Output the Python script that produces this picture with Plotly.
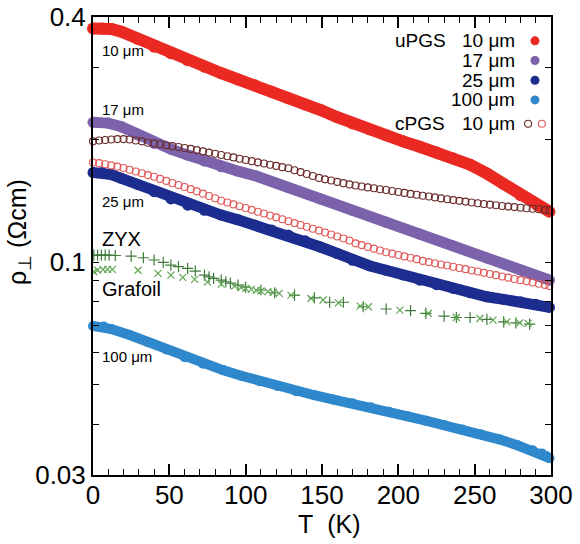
import math
import plotly.graph_objects as go

# ---------------- data ----------------
T_u10 = [0, 6, 12, 18.6, 29.5, 40, 51, 62, 73, 84, 95, 106, 117, 128, 139, 149.5,
         160, 170, 181, 192, 203, 214, 225, 236, 247, 258, 269, 280, 291, 299]
rho_u10 = [0.375, 0.375, 0.374, 0.368, 0.353, 0.338, 0.326, 0.313, 0.302, 0.291, 0.281,
           0.272, 0.262, 0.2525, 0.244, 0.236, 0.227, 0.219, 0.212, 0.205, 0.198, 0.192,
           0.186, 0.1798, 0.1735, 0.165, 0.1555, 0.146, 0.138, 0.133]

T_u17 = [0, 10, 18.6, 29.5, 40, 51, 62, 73, 84, 95, 106, 128, 149, 170, 192, 214, 236,
         258, 280, 299]
rho_u17 = [0.2205, 0.2195, 0.215, 0.2051, 0.1957, 0.1895, 0.1832, 0.1771, 0.1714, 0.1673,
           0.1631, 0.1525, 0.1429, 0.134, 0.1253, 0.1172, 0.1096, 0.1024, 0.0957, 0.0903]

T_u25 = [0, 6, 12, 18.6, 29.5, 40, 51, 62, 73, 84, 95, 106, 117, 128, 139, 149, 160, 170,
         181, 192, 203, 214, 225, 236, 247, 258, 269, 280, 290, 299]
rho_u25 = [0.166, 0.166, 0.164, 0.1606, 0.155, 0.1489, 0.143, 0.138, 0.134, 0.1305, 0.127,
           0.1233, 0.120, 0.1165, 0.1128, 0.1089, 0.105, 0.101, 0.098, 0.0955, 0.093,
           0.0903, 0.088, 0.0862, 0.0841, 0.0822, 0.081, 0.0799, 0.0788, 0.0774]

T_u100 = [0, 7, 12, 24, 36, 48, 60, 72, 85, 97, 109, 121, 133, 145, 157, 170, 182, 194,
          206, 218, 230, 242, 254, 266, 278, 288, 294, 297, 299]
rho_u100 = [0.0697, 0.0695, 0.0685, 0.0662, 0.0636, 0.061, 0.0584, 0.0563, 0.0543, 0.0526,
            0.0510, 0.0496, 0.0482, 0.0471, 0.0460, 0.045, 0.0440, 0.0429, 0.0418, 0.0408,
            0.0398, 0.0388, 0.0378, 0.0367, 0.0355, 0.0345, 0.0339, 0.0334, 0.0330]

T_c10 = [0, 4, 8, 12, 16, 20, 24, 28, 32, 36, 40, 44, 48, 52, 56, 60, 64, 68, 72, 76, 80,
         84, 88, 92, 96, 100, 104, 108, 112, 116, 120, 124, 128, 132, 136, 140, 144, 148,
         152, 156, 160, 164, 168, 172, 176, 180, 184, 188, 192, 196, 200, 204, 208, 212,
         216, 220, 224, 228, 232, 236, 240, 244, 248, 252, 256, 260, 264, 268, 272, 276,
         280, 284, 288, 292, 296, 299]
rho_c10_a = [0.198, 0.199, 0.1995, 0.200, 0.2005, 0.2005, 0.200, 0.199, 0.198, 0.1965,
             0.1957, 0.1947, 0.1937, 0.1927, 0.1917, 0.1907, 0.1897, 0.1884, 0.1871,
             0.1858, 0.1845, 0.1832, 0.182, 0.1808, 0.1795, 0.1782, 0.177, 0.1758, 0.1746,
             0.1735, 0.1723, 0.1711, 0.170, 0.1682, 0.1664, 0.1646, 0.1628, 0.161, 0.1597,
             0.1586, 0.1574, 0.1563, 0.1552, 0.1542, 0.1534, 0.1526, 0.1518, 0.1510, 0.1503,
             0.1495, 0.1487, 0.1479, 0.1471, 0.1464, 0.1456, 0.1449, 0.1442, 0.1434,
             0.1427, 0.142, 0.1414, 0.1408, 0.1401, 0.1395, 0.1389, 0.1384, 0.1379, 0.1374,
             0.1369, 0.1365, 0.136, 0.1356, 0.1352, 0.1348, 0.1344, 0.1341]
rho_c10_b = [0.1757, 0.1750, 0.1740, 0.1728, 0.1716, 0.1703, 0.1686, 0.1670, 0.1653,
             0.1636, 0.162, 0.1601, 0.1583, 0.1565, 0.1547, 0.1529, 0.1511, 0.1492, 0.1473,
             0.1454, 0.1435, 0.1415, 0.1401, 0.1386, 0.1372, 0.1358, 0.1344, 0.1330,
             0.1316, 0.1302, 0.1288, 0.1274, 0.126, 0.1247, 0.1234, 0.1221, 0.1208, 0.1195,
             0.1182, 0.1169, 0.1156, 0.1143, 0.1130, 0.1112, 0.1101, 0.1090, 0.1079,
             0.1068, 0.1057, 0.1049, 0.1041, 0.1033, 0.1025, 0.1017, 0.1007, 0.1000,
             0.0994, 0.0987, 0.0981, 0.0974, 0.0967, 0.0961, 0.0954, 0.0948, 0.0941,
             0.0935, 0.0929, 0.0922, 0.0916, 0.0909, 0.0903, 0.0897, 0.0891, 0.0885,
             0.0879, 0.0874]

T_zyx = [0.5, 3, 5.5, 8, 10.5, 14.6, 25, 33, 40, 46, 51, 56, 62, 67, 73, 76, 79, 84, 87,
         90, 95, 100, 110, 119, 132, 145, 155, 164, 177, 192, 208, 218, 230, 238, 247, 258,
         269, 277, 286]
rho_zyx = [0.1040, 0.1040, 0.1040, 0.1040, 0.1040, 0.1038, 0.1034, 0.1025, 0.1012, 0.0998,
           0.0983, 0.0975, 0.0965, 0.0950, 0.0929, 0.0920, 0.0912, 0.0903, 0.0895, 0.0888,
           0.0878, 0.0868, 0.0854, 0.0841, 0.0830, 0.0817, 0.0797, 0.0797, 0.0777, 0.0767,
           0.0760, 0.0748, 0.0737, 0.0731, 0.0731, 0.0723, 0.0713, 0.0709, 0.0704]

T_graf = [0.5, 3, 6.6, 9.5, 12.7, 29.5, 42.6, 51, 58.8, 66.6, 75, 84, 92.8, 97, 100,
          103.7, 107, 110, 114.6, 118, 122, 129.7, 142.8, 150.7, 160.7, 175, 180.4, 201,
          219.6, 238, 253.4, 262, 271, 279.6, 285]
rho_graf = [0.0947, 0.0955, 0.0960, 0.0960, 0.0960, 0.0955, 0.0938, 0.0929, 0.0917,
            0.0907, 0.0894, 0.0883, 0.0873, 0.0866, 0.0862, 0.0857, 0.0852, 0.0850, 0.0846,
            0.0842, 0.0838, 0.0830, 0.0814, 0.0807, 0.0794, 0.0780, 0.0777, 0.0762, 0.0748,
            0.0731, 0.0727, 0.0720, 0.0713, 0.0709, 0.0707]

y_ticks = [0.03, 0.04, 0.05, 0.06, 0.07, 0.08, 0.09, 0.1, 0.2, 0.3, 0.4]
y_ticktext = ['0.03', ' ', ' ', ' ', ' ', ' ', ' ', '0.1', ' ', ' ', '0.4']

legend_rows = [("uPGS", "10 μm"), ("", "17 μm"), ("", "25 μm"), ("", "100 μm"),
               ("cPGS", "10 μm")]

curve_labels = [("10 μm", 0.926, 15), ("17 μm", 0.799, 15), ("25 μm", 0.598, 15),
                ("ZYX", 0.515, 20), ("Grafoil", 0.406, 20), ("100 μm", 0.258, 15)]

# ---------------- styles ----------------
C_RED = "#ea2a22"
C_PURPLE = "#7b62ab"
C_NAVY = "#1c2d8f"
C_LBLUE = "#2f88cc"
C_BROWN = "#6a2b2b"
C_PINK = "#e25858"
C_ZYX = "#3f7a3a"
C_GRAF = "#5fa552"
FONT = "Liberation Sans, Arial, Helvetica, sans-serif"

fig = go.Figure()


def band(T, rho, color, w):
    fig.add_trace(go.Scatter(
        x=T, y=rho, mode="lines+markers", line=dict(color=color, width=w),
        marker=dict(color=color, size=w), cliponaxis=False, showlegend=False,
        hoverinfo="skip"))


band(T_u10, rho_u10, C_RED, 12)
band(T_u17, rho_u17, C_PURPLE, 11)
band(T_u25, rho_u25, C_NAVY, 11)
band(T_u100, rho_u100, C_LBLUE, 10)

for rho, col in [(rho_c10_a, C_BROWN), (rho_c10_b, C_PINK)]:
    fig.add_trace(go.Scatter(
        x=T_c10, y=rho, mode="markers",
        marker=dict(symbol="circle-open", size=7, color=col, line=dict(width=1.1, color=col)),
        cliponaxis=False, showlegend=False, hoverinfo="skip"))

fig.add_trace(go.Scatter(
    x=T_zyx, y=rho_zyx, mode="markers",
    marker=dict(symbol="cross-thin-open", size=8, line=dict(width=1.2, color=C_ZYX), color=C_ZYX),
    showlegend=False, hoverinfo="skip"))
fig.add_trace(go.Scatter(
    x=T_graf, y=rho_graf, mode="markers",
    marker=dict(symbol="x-thin-open", size=7, line=dict(width=1.2, color=C_GRAF), color=C_GRAF),
    showlegend=False, hoverinfo="skip"))

# ---------------- hand-built legend (text left, key right) ----------------
row_y0, row_dy = 0.948, 0.043
row_y = [row_y0 - i * row_dy for i in range(4)] + [row_y0 - 3 * row_dy - 0.052]
key_colors = [C_RED, C_PURPLE, C_NAVY, C_LBLUE]
fig.add_trace(go.Scatter(
    x=[0.965] * 4, y=row_y[:4], xaxis="x3", yaxis="y3", mode="markers",
    marker=dict(color=key_colors, size=9), showlegend=False, hoverinfo="skip",
    cliponaxis=False))
fig.add_trace(go.Scatter(
    x=[0.950, 0.980], y=[row_y[4]] * 2, xaxis="x3", yaxis="y3", mode="markers",
    marker=dict(symbol="circle-open", size=7, color=[C_BROWN, C_PINK],
                line=dict(width=1.1, color=[C_BROWN, C_PINK])),
    showlegend=False, hoverinfo="skip", cliponaxis=False))

annotations = []
for (lab, size_txt), yy in zip(legend_rows, row_y):
    if lab:
        annotations.append(dict(text=lab, xref="paper", yref="paper", x=0.655, y=yy,
                                xanchor="left", yanchor="middle", showarrow=False,
                                font=dict(size=19, color="black", family=FONT)))
    annotations.append(dict(text=size_txt, xref="paper", yref="paper", x=0.926, y=yy,
                            xanchor="right", yanchor="middle", showarrow=False,
                            font=dict(size=19, color="black", family=FONT)))

for txt, yy, fs in curve_labels:
    annotations.append(dict(text=txt, xref="paper", yref="paper", x=0.015, y=yy,
                            xanchor="left", yanchor="middle", showarrow=False,
                            font=dict(size=fs, color="black", family=FONT)))

# axis titles
annotations.append(dict(text="T\u00a0\u00a0(K)", xref="paper", yref="paper", x=0.517, y=-0.108,
                        xanchor="center", yanchor="middle", showarrow=False,
                        font=dict(size=25, color="black", family=FONT)))
annotations.append(dict(text="ρ<sub>⊥</sub> (Ωcm)", xref="paper", yref="paper", x=-0.162,
                        y=0.53, xanchor="center", yanchor="middle", textangle=-90,
                        showarrow=False, font=dict(size=25, color="black", family=FONT)))

ylog_range = [math.log10(0.03), math.log10(0.4)]

fig.update_layout(
    width=580, height=544,
    margin=dict(l=93, r=29, t=17, b=69, autoexpand=False),
    plot_bgcolor="white", paper_bgcolor="white",
    font=dict(family=FONT, color="black"),
    showlegend=False,
    annotations=annotations,
    xaxis=dict(range=[0, 300], dtick=50, tick0=0, ticks="inside", ticklen=11, tickwidth=1.5,
               tickcolor="black", showline=True, linecolor="black", linewidth=2,
               mirror="ticks", showgrid=False, zeroline=False, automargin=False,
               ticklabelstandoff=-4,
               tickfont=dict(size=26, family=FONT, color="black"),
               minor=dict(dtick=10, tick0=0, ticks="inside", ticklen=6, tickwidth=1.3,
                          tickcolor="black", showgrid=False)),
    yaxis=dict(type="log", range=ylog_range, tickvals=y_ticks, ticktext=y_ticktext,
               ticks="inside", ticklen=6, tickwidth=1.3, tickcolor="black", showline=True,
               linecolor="black", linewidth=2, mirror="ticks", showgrid=False,
               zeroline=False, automargin=False,
               tickfont=dict(size=26, family=FONT, color="black")),
    yaxis2=dict(type="log", range=ylog_range, overlaying="y", anchor="x", side="left",
                tickvals=[0.1], ticks="inside", ticklen=11, tickwidth=1.5, tickcolor="black",
                showticklabels=False, showline=False, mirror="ticks", showgrid=False,
                zeroline=False, automargin=False),
    xaxis3=dict(overlaying="x", anchor="y3", range=[0, 1], visible=False, automargin=False),
    yaxis3=dict(overlaying="y", anchor="x3", range=[0, 1], visible=False, automargin=False),
)

fig.write_html("out.html")
